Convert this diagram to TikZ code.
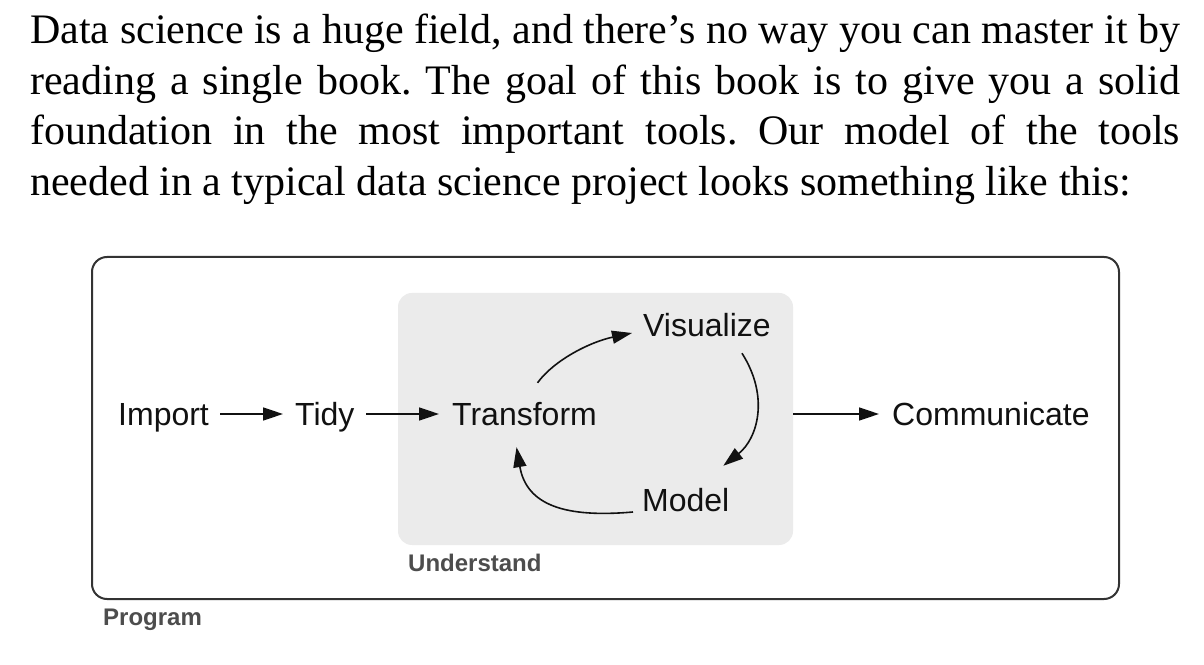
\documentclass[tikz,border=0pt]{standalone}
\usepackage{fontspec}
\setmainfont{Liberation Serif}
\newfontfamily\diagfont{Liberation Sans}
\usetikzlibrary{arrows.meta,calc}
\definecolor{ubg}{HTML}{EBEBEB}
\definecolor{lblc}{HTML}{4D4D4D}
\definecolor{ink}{HTML}{111111}
\definecolor{boxc}{HTML}{333333}
\begin{document}
\begin{tikzpicture}[x=1pt,y=1pt,
  txt/.style={font=\diagfont\fontsize{32}{38}\selectfont, inner sep=0pt, text height=23pt, text depth=0pt, anchor=west, text=ink},
  arr/.style={line width=1.6pt, draw=ink, -{Triangle[length=20pt,width=13pt]}},
  grouplbl/.style={font=\diagfont\bfseries\fontsize{24}{28}\selectfont, text=lblc, inner sep=0pt, anchor=base west},
  progbox/.style={draw=boxc, line width=2pt, rounded corners=15pt, minimum width=1027pt, minimum height=342pt, inner sep=0pt},
  undbox/.style={fill=ubg, rounded corners=14pt, minimum width=395pt, minimum height=252pt, inner sep=0pt}
]
\useasboundingbox (0,0) rectangle (1204,664);
\fill[white] (0,0) rectangle (1204,664);

\node[anchor=base west, inner sep=0pt, text width=1150pt, align=justify,
      font=\fontsize{42}{50.5}\selectfont, text=black] (para) at (30,620)
 {\frenchspacing\hyphenpenalty=10000\exhyphenpenalty=10000\tolerance=9999
  Data science is a huge field, and there’s no way you can master it by\linebreak
  reading a single book. The goal of this book is to give you a solid\linebreak
  foundation in the most important tools. Our model of the tools\linebreak
  needed in a typical data science project looks something like this:};

\node[progbox] (prog) at (605.5,236) {};
\node[undbox] (ubox) at (595.5,245) {};

\node[grouplbl] (ulbl) at (408,92.5) {Understand};
\node[grouplbl] (plbl) at (103,39) {Program};

\node[txt] (imp) at (118,250) {Import};
\node[txt] (tidy) at (295,250) {Tidy};
\node[txt] (tr) at (452,250) {Transform};
\node[txt] (vis) at (643,339) {Visualize};
\node[txt] (mod) at (642,164) {Model};
\node[txt] (comm) at (892,250) {Communicate};

\draw[arr, shorten <=11pt, shorten >=12pt] (imp.east) -- (tidy.west);
\draw[arr, shorten <=11.5pt, shorten >=13pt] (tidy.east) -- (tr.west);
\draw[arr, shorten >=13pt] (ubox.east |- comm.west) -- (comm.west);

\coordinate (c1s) at ($(tr.north)+(13,19.5)$);
\coordinate (c1e) at ($(vis.west)+(-11,-8)$);
\coordinate (c2s) at ($(vis.south)+(35,-16.5)$);
\coordinate (c2e) at ($(mod.north)+(37.5,22.5)$);
\coordinate (c3s) at ($(mod.west)+(-9,-12)$);
\coordinate (c3e) at ($(tr.south)+(-8,-21.5)$);

\draw[arr] (c1s) .. controls ($(c1s)+(17,23)$) and ($(c1e)+(-42,-9)$) .. (c1e);
\draw[arr] (c2s) .. controls ($(c2s)+(28,-44)$) and ($(c2e)+(34,27)$) .. (c2e);
\draw[arr] (c3s) .. controls ($(c3s)+(-68,-6)$) and ($(c3e)+(10,-58)$) .. (c3e);
\end{tikzpicture}
\end{document}
